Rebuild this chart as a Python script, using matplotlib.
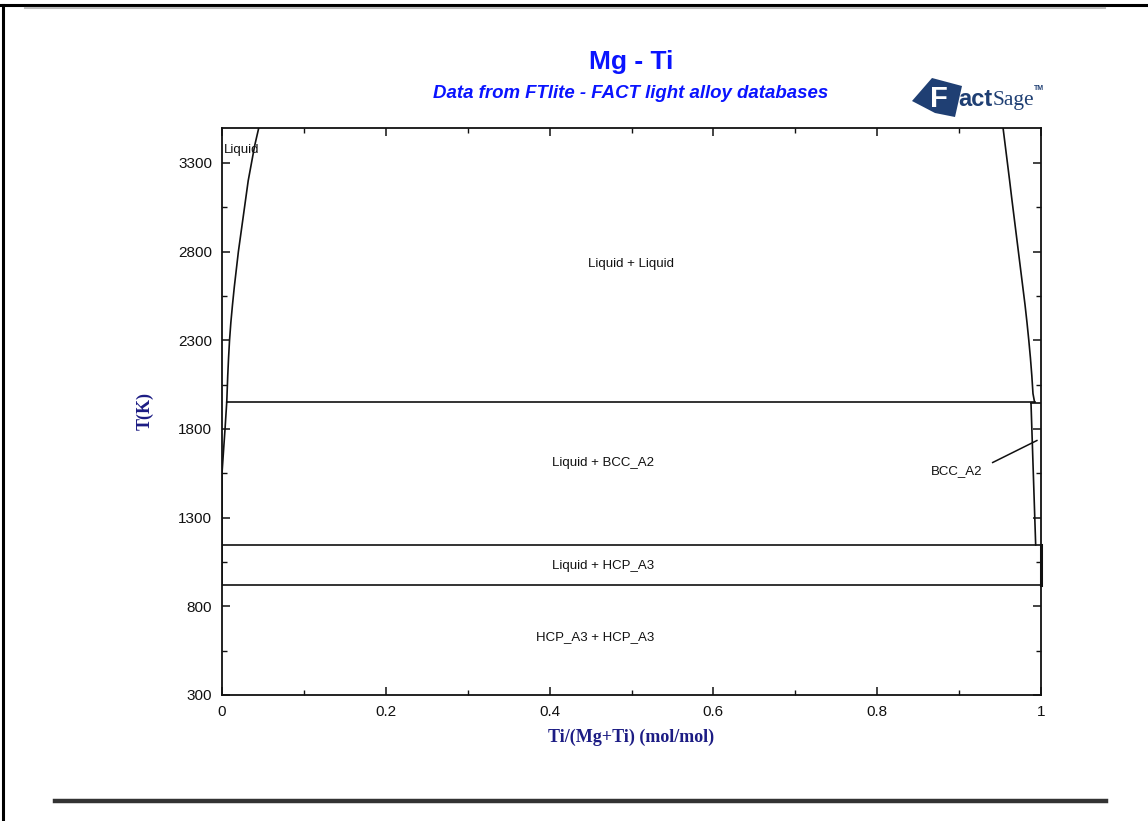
import matplotlib
matplotlib.use("Agg")
import matplotlib.pyplot as plt
from matplotlib.lines import Line2D
from matplotlib.patches import Polygon

W, H = 1148, 821

# ---- phase boundary data: composition x = Ti/(Mg+Ti), temperature T in K ----
# Mg-rich liquid boundary of the liquid miscibility gap
mg_liq_T = [3500, 3400, 3300, 3200, 3100, 3000, 2900, 2800, 2700, 2600,
            2500, 2400, 2300, 2200, 2100, 2000, 1952]
mg_liq_x = [0.045, 0.040, 0.036, 0.032, 0.029, 0.026, 0.023, 0.020, 0.0175, 0.015,
            0.0128, 0.0108, 0.0092, 0.0080, 0.0070, 0.0062, 0.0058]
# Mg-rich liquidus below the monotectic
mg_liquidus_x = [0.0058, 0.0048, 0.0037, 0.0022, 0.0, 0.0, 0.0]
mg_liquidus_T = [1952, 1880, 1800, 1700, 1550, 1146, 923]
# Ti-rich liquid boundary of the miscibility gap
ti_liq_T = [3500, 3400, 3300, 3200, 3100, 3000, 2900, 2800, 2700, 2600,
            2500, 2400, 2300, 2200, 2100, 2000, 1952]
ti_liq_x = [0.9536, 0.9563, 0.9590, 0.9617, 0.9643, 0.9670, 0.9697, 0.9724, 0.9751,
            0.9778, 0.9805, 0.9829, 0.9851, 0.9871, 0.9888, 0.9902, 0.9921]
# BCC_A2 solvus on the Ti side
bcc_x = [0.9878, 0.9935]
bcc_T = [1945, 1146]
# invariant temperatures
T_monotectic = 1952
T_bcc_top = 1945
T_hcp = 1146
T_mg_melt = 923

phase_labels = [
    ("Liquid + Liquid", 0.50, 2730),
    ("Liquid + BCC_A2", 0.465, 1610),
    ("Liquid + HCP_A3", 0.465, 1025),
    ("HCP_A3 + HCP_A3", 0.455, 625),
]

x_ticks = [0, 0.2, 0.4, 0.6, 0.8, 1]
x_tick_labels = ["0", "0.2", "0.4", "0.6", "0.8", "1"]
y_ticks = [300, 800, 1300, 1800, 2300, 2800, 3300]


def fx(px):
    return px / W


def fy(py):
    return 1 - py / H


fig = plt.figure(figsize=(W / 100, H / 100), dpi=100)
fig.patch.set_facecolor("white")

# page frame lines
fig.add_artist(Line2D([fx(0), fx(W)], [fy(5), fy(5)], color="black", lw=2.2))
fig.add_artist(Line2D([fx(25), fx(1105)], [fy(8.5), fy(8.5)], color="#bbbbbb", lw=1.5))
fig.add_artist(Line2D([fx(3), fx(3)], [fy(5), fy(H)], color="black", lw=2.2))
fig.add_artist(Line2D([fx(55), fx(1106)], [fy(801), fy(801)], color="#333333", lw=3.2))

left, right, top, bottom = 222, 1041, 127.5, 695
ax = fig.add_axes([fx(left), fy(bottom), (right - left) / W, (bottom - top) / H])
ax.set_xlim(0, 1)
ax.set_ylim(300, 3500)

lc = "#111111"
lw = 1.2
ax.plot(mg_liq_x, mg_liq_T, color=lc, lw=lw)
ax.plot(mg_liquidus_x, mg_liquidus_T, color=lc, lw=lw)
ax.plot(ti_liq_x, ti_liq_T, color=lc, lw=lw)
ax.plot(bcc_x, bcc_T, color=lc, lw=lw)
ax.plot([mg_liq_x[-1], ti_liq_x[-1]], [T_monotectic, T_monotectic], color=lc, lw=lw)
ax.plot([bcc_x[0], 1.0], [T_bcc_top, T_bcc_top], color=lc, lw=lw)
ax.plot([0, 1], [T_hcp, T_hcp], color=lc, lw=lw)
ax.plot([0, 1], [T_mg_melt, T_mg_melt], color=lc, lw=lw)
ax.plot([1, 1], [T_hcp, T_mg_melt], color=lc, lw=2.2, clip_on=False)

for s in ax.spines.values():
    s.set_linewidth(1.3)
    s.set_color("#111111")

ax.set_xticks(x_ticks)
ax.set_xticklabels(x_tick_labels)
ax.set_xticks([0.1, 0.3, 0.5, 0.7, 0.9], minor=True)
ax.set_yticks(y_ticks)
ax.set_yticks([550, 1050, 1550, 2050, 2550, 3050], minor=True)
ax.tick_params(which="both", direction="in", top=True, right=True, color="#111111")
ax.tick_params(which="major", length=6, width=1.1, labelsize=11, pad=7, labelcolor="#111111")
ax.tick_params(which="minor", length=3.5, width=1.0)
for lab in ax.get_xticklabels() + ax.get_yticklabels():
    lab.set_fontfamily("Liberation Sans")

ax.set_xlabel("Ti/(Mg+Ti) (mol/mol)", fontfamily="Liberation Serif", fontweight="bold",
              fontsize=13, color="#1c1c84", labelpad=7)
ax.set_ylabel("T(K)", fontfamily="Liberation Serif", fontweight="bold",
              fontsize=13, color="#1c1c84", labelpad=18)

for txt, x, T in phase_labels:
    ax.text(x, T, txt, ha="center", va="center", fontsize=9.5,
            fontfamily="Liberation Sans", color="#111111")
ax.text(0.002, 3375, "Liquid", ha="left", va="center", fontsize=9.5,
        fontfamily="Liberation Sans", color="#111111")
ax.text(0.897, 1560, "BCC_A2", ha="center", va="center", fontsize=9.5,
        fontfamily="Liberation Sans", color="#111111")
ax.plot([0.941, 0.995], [1611, 1735], color=lc, lw=1.1)

# titles
fig.text(fx(631), fy(62), "Mg - Ti", ha="center", va="center", fontsize=19,
         fontweight="bold", color="#0a14ff", fontfamily="Liberation Sans")
fig.text(fx(631), fy(94), "Data from FTlite - FACT light alloy databases", ha="center",
         va="center", fontsize=13.4, fontweight="bold", fontstyle="italic",
         color="#0a14ff", fontfamily="Liberation Sans")

# FactSage logo
navy = "#1f3f73"
logo = Polygon([(fx(912), fy(101)), (fx(932), fy(78)), (fx(962), fy(86)),
                (fx(955), fy(117)), (fx(935), fy(113))],
               closed=True, transform=fig.transFigure, facecolor=navy, edgecolor="none")
fig.add_artist(logo)
fig.text(fx(939), fy(99), "F", ha="center", va="center", fontsize=21, fontweight="bold",
         color="white", fontfamily="Liberation Sans")
fig.text(fx(958), fy(100), "act", ha="left", va="center", fontsize=17, fontweight="bold",
         color=navy, fontfamily="Liberation Sans")
fig.text(fx(993), fy(101), "Sage", ha="left", va="center", fontsize=15.5,
         color=navy, fontfamily="Liberation Serif")
fig.text(fx(1034), fy(88), "TM", ha="left", va="center", fontsize=5,
         color=navy, fontfamily="Liberation Sans", fontweight="bold")

fig.savefig("out.png", dpi=100, facecolor="white")
